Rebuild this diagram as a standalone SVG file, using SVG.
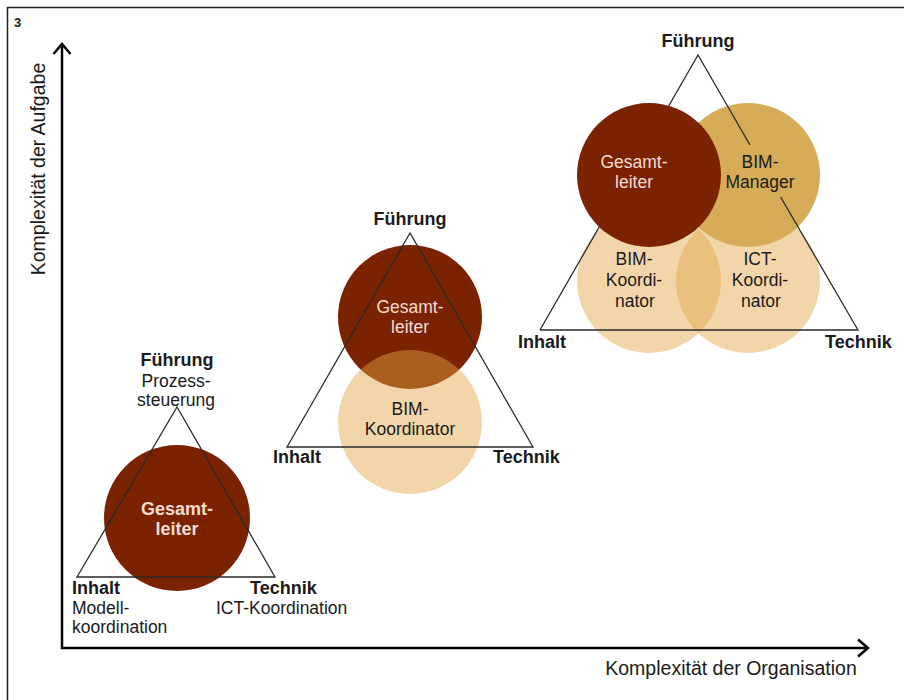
<svg xmlns="http://www.w3.org/2000/svg" width="904" height="700" viewBox="0 0 904 700">
<defs>
<style>
text{font-family:"Liberation Sans",Arial,sans-serif;fill:#1a1a1a}
.b{font-weight:bold;font-size:18px}
.r{font-size:17.5px}
.c{text-anchor:middle}
.w{fill:#f4ddd3}
.ax{font-size:19.5px}
.tri{fill:none;stroke:#2a2a2a;stroke-width:1.3}
.dark{fill:#7b2200}
.light{fill:#e3a646;fill-opacity:0.46}
.gold{fill:#d6ac58}
.axis{fill:none;stroke:#000;stroke-width:2.5}
</style>
</defs>
<rect width="904" height="700" fill="#fff"/>
<path d="M7.5,700 V7.5 H904" fill="none" stroke="#222" stroke-width="1.5"/>
<text x="14" y="27" style="font-weight:bold;font-size:13px">3</text>

<g id="axes">
<path class="axis" d="M62,44 V648 H867"/>
<path class="axis" d="M53.5,54 L62,44 L70.5,54"/>
<path class="axis" d="M858,639.5 L868,648 L858,656.5"/>
<text class="ax" transform="translate(45,169) rotate(-90)" text-anchor="middle">Komplexität der Aufgabe</text>
<text class="ax c" x="731" y="675">Komplexität der Organisation</text>
</g>

<g id="stage1">
<circle class="dark" cx="177" cy="518" r="73"/>
<polygon class="tri" points="177,407 77,577 275,577"/>
<text class="b c" x="177" y="366">Führung</text>
<text class="r c" x="176" y="387">Prozess-</text>
<text class="r c" x="176" y="406">steuerung</text>
<text class="b c w" x="177" y="515">Gesamt-</text>
<text class="b c w" x="177" y="535">leiter</text>
<text class="b" x="72" y="594">Inhalt</text>
<text class="r" x="72" y="614">Modell-</text>
<text class="r" x="72" y="633">koordination</text>
<text class="b" x="250" y="594">Technik</text>
<text class="r" x="216" y="614">ICT-Koordination</text>
</g>

<g id="stage2">
<circle class="dark" cx="410" cy="317" r="72"/>
<circle class="light" cx="410" cy="422" r="72"/>
<polygon class="tri" points="410,233 287,447 533,447"/>
<text class="b c" x="410" y="225">Führung</text>
<text class="r c w" x="410" y="313">Gesamt-</text>
<text class="r c w" x="410" y="333">leiter</text>
<text class="r c" x="410" y="415">BIM-</text>
<text class="r c" x="410" y="435">Koordinator</text>
<text class="b" x="273" y="463">Inhalt</text>
<text class="b" x="493" y="463">Technik</text>
</g>

<g id="stage3">
<circle class="light" cx="649" cy="281" r="72"/>
<circle class="light" cx="748" cy="281" r="72"/>
<circle class="gold" cx="748" cy="175" r="72"/>
<path class="tri" d="M540,330 H858 L780.6,197 M750,145 L698,55 L540,330"/>
<circle class="dark" cx="649" cy="175" r="72"/>
<text class="b c" x="698" y="47">Führung</text>
<text class="r c w" x="634" y="168">Gesamt-</text>
<text class="r c w" x="634" y="188">leiter</text>
<text class="r c" x="760" y="168">BIM-</text>
<text class="r c" x="760" y="188">Manager</text>
<text class="r c" x="634" y="265">BIM-</text>
<text class="r c" x="634" y="286">Koordi-</text>
<text class="r c" x="635" y="307">nator</text>
<text class="r c" x="760" y="265">ICT-</text>
<text class="r c" x="760" y="286">Koordi-</text>
<text class="r c" x="761" y="307">nator</text>
<text class="b" x="518" y="348">Inhalt</text>
<text class="b" x="825" y="348">Technik</text>
</g>
</svg>
